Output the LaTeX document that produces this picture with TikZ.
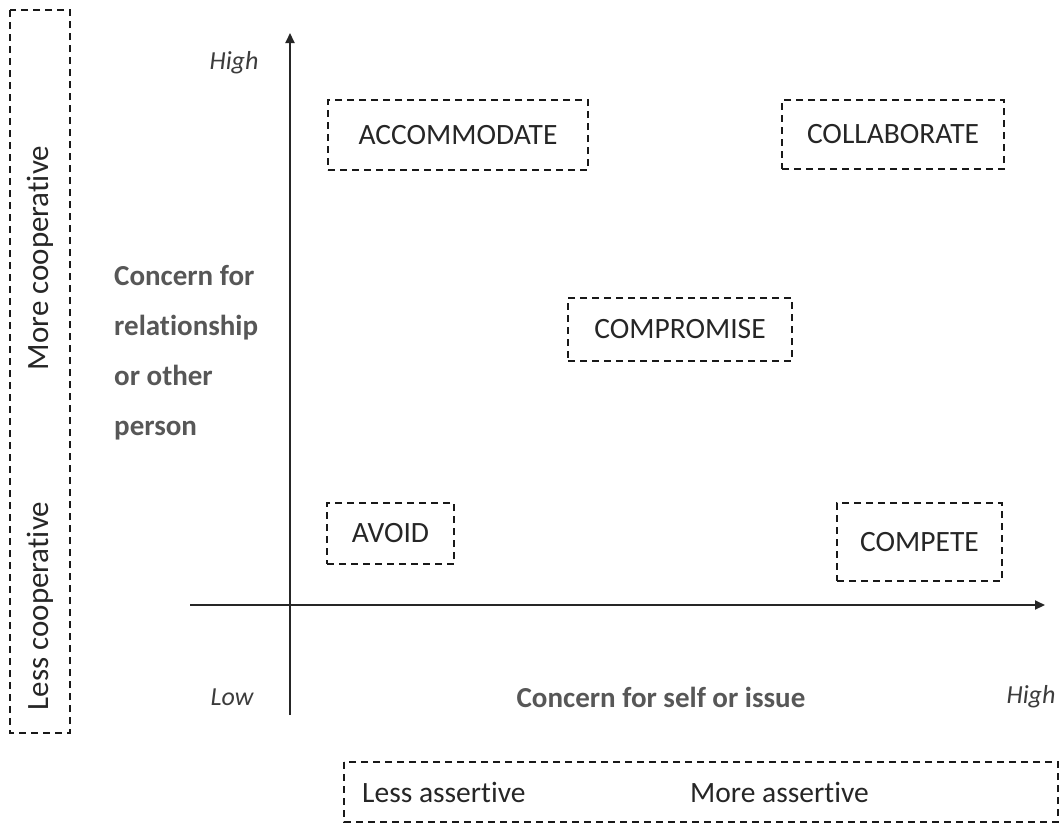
\documentclass[tikz,border=0pt]{standalone}
\usepackage{fontspec}
\setmainfont{Carlito}[Ligatures=NoCommon]
\usetikzlibrary{arrows.meta}

\definecolor{boxtext}{HTML}{262626}
\definecolor{axislabel}{HTML}{575757}

\begin{document}
\begin{tikzpicture}[x=1pt, y=-1pt,
    dashbox/.style={draw=black!90, line width=1.8pt, dash pattern=on 7pt off 5pt},
    stylebox/.style={dashbox, inner sep=0pt, text=boxtext, font=\fontsize{29.5}{35}\selectfont},
    plaintext/.style={inner sep=0pt, text=boxtext, font=\fontsize{29.5}{35}\selectfont},
    sidetext/.style={inner sep=0pt, text=boxtext, rotate=90, font=\fontsize{31}{37}\selectfont},
    endlabel/.style={inner sep=0pt, text=boxtext!90, font=\fontsize{26}{30}\selectfont\itshape},
    boldlabel/.style={inner sep=0pt, text=axislabel, font=\fontsize{29}{50}\selectfont\bfseries},
    axis/.style={line width=2pt, draw=black!85, -{Triangle[length=10pt, width=9pt]}}]
    \useasboundingbox (0,0) rectangle (1062,825);

    % axes
    \coordinate (ybot) at (290,715);
    \coordinate (ytop) at (290,33);
    \coordinate (xleft) at (190,605);
    \coordinate (xright) at (1045,605);
    \draw[axis] (ybot) -- (ytop);
    \draw[axis] (xleft) -- (xright);

    \node[endlabel] (yhigh) at (234,63) {High};
    \node[endlabel] (xlow) at (232,697) {Low};
    \node[endlabel] (xhigh) at (1031,697) {High};

    \node[boldlabel, anchor=west, align=left] (ytitle) at (114,353)
        {Concern for\\relationship\\or other\\person};
    \node[boldlabel] (xtitle) at (661,697) {Concern for self or issue};

    % the five styles
    \node[stylebox, minimum width=260pt, minimum height=70pt] (accommodate) at (458,135) {ACCOMMODATE};
    \node[stylebox, minimum width=222pt, minimum height=69pt] (collaborate) at (893,134.5) {COLLABORATE};
    \node[stylebox, minimum width=224pt, minimum height=63pt] (compromise) at (680,329.5) {COMPROMISE};
    \node[stylebox, minimum width=127pt, minimum height=61pt] (avoid) at (390.5,533.5) {AVOID};
    \node[stylebox, minimum width=165pt, minimum height=78pt] (compete) at (919.5,542) {COMPETE};

    % cooperative / assertive bands
    \draw[dashbox] (10,10) rectangle (70,733);
    \node[sidetext] (morecoop) at (40,258) {More cooperative};
    \node[sidetext] (lesscoop) at (40,606) {Less cooperative};

    \draw[dashbox] (344,762) rectangle (1058,822);
    \node[plaintext, anchor=west] (lessassert) at (362,792) {Less assertive};
    \node[plaintext, anchor=west] (moreassert) at (690,792) {More assertive};
\end{tikzpicture}
\end{document}
